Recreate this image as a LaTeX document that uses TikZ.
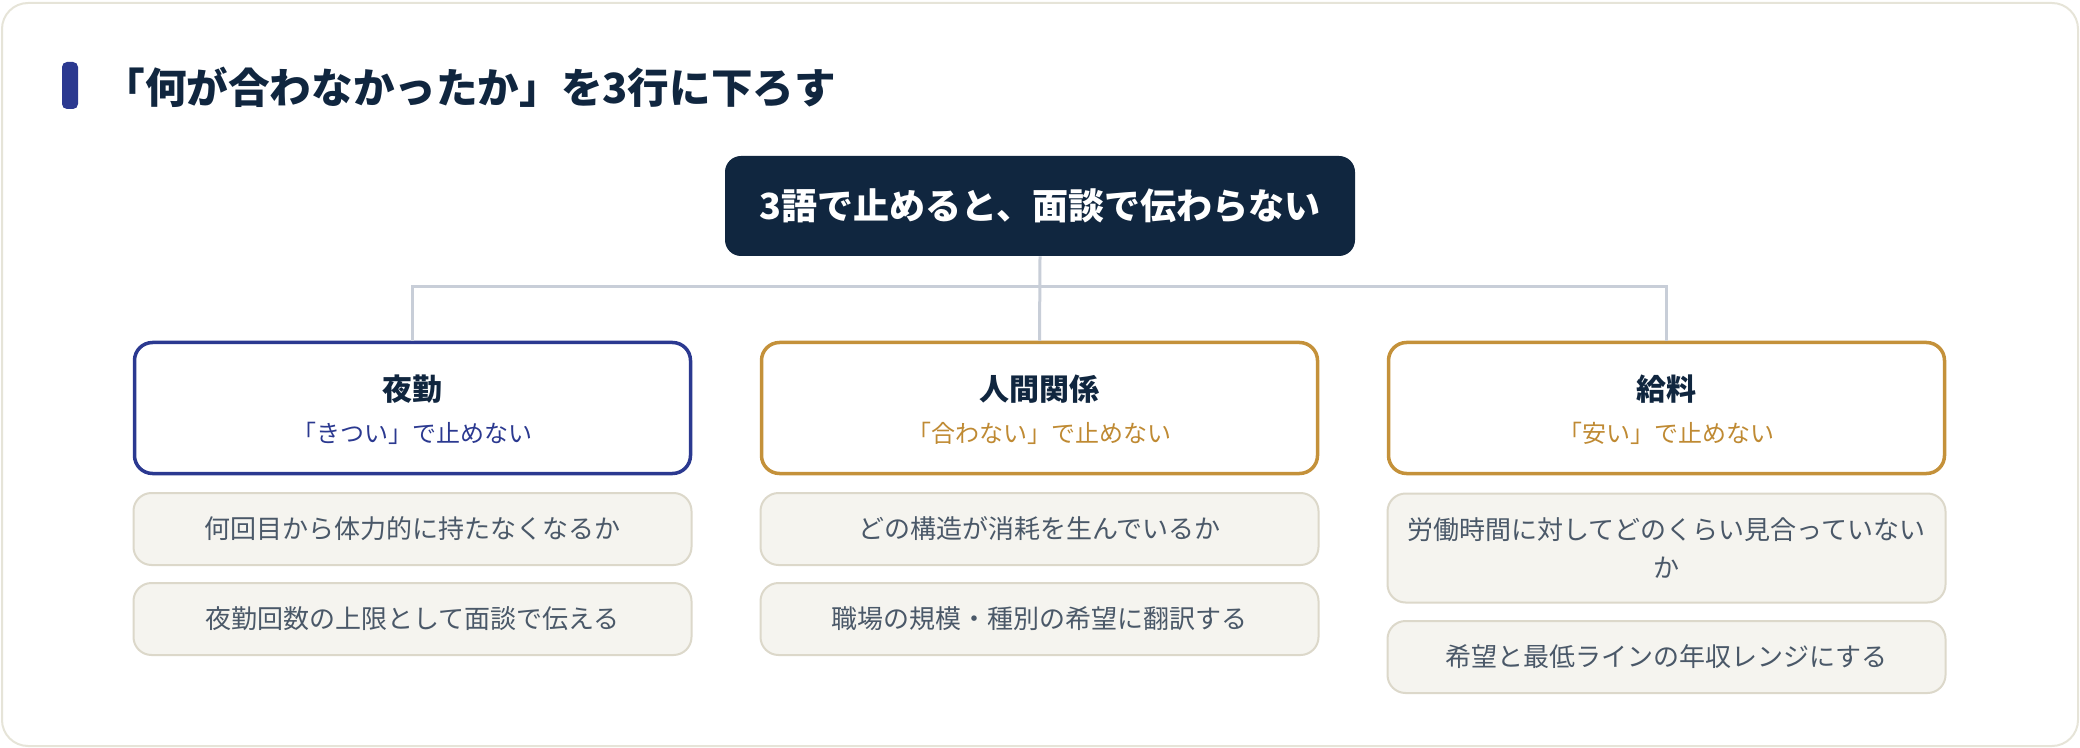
\documentclass[tikz,border=0pt]{standalone}
\usepackage{fontspec}
\setmainfont{Noto Sans CJK JP}
\definecolor{navy}{HTML}{10263F}
\definecolor{accent}{HTML}{2B3990}
\definecolor{gold}{HTML}{C4913A}
\definecolor{goldtext}{HTML}{BF8A33}
\definecolor{conn}{HTML}{C8CED8}
\definecolor{itemfill}{HTML}{F5F4EF}
\definecolor{itemline}{HTML}{DCD8CA}
\definecolor{itemtext}{HTML}{4A5868}
\definecolor{cardline}{HTML}{E6E4D8}
\begin{document}
\begin{tikzpicture}[x=0.5pt,y=-0.5pt,
  card/.style={draw=cardline,line width=1pt,rounded corners=13pt,fill=white},
  topbox/.style={fill=navy,rounded corners=8pt,minimum width=315pt,minimum height=50pt,
    text=white,font=\bfseries\fontsize{18pt}{22pt}\selectfont,inner sep=0pt},
  catbox/.style={fill=white,line width=1.75pt,rounded corners=9pt,
    minimum width=278pt,minimum height=65.5pt,inner sep=0pt},
  cattitle/.style={text=navy,font=\bfseries\fontsize{15pt}{18pt}\selectfont,inner sep=0pt},
  catsub/.style={font=\fontsize{12pt}{15pt}\selectfont,inner sep=0pt},
  itembox/.style={fill=itemfill,draw=itemline,line width=1pt,rounded corners=9pt,
    minimum width=279pt,text=itemtext,align=center,
    font=\fontsize{13pt}{19pt}\selectfont,inner sep=0pt},
  connector/.style={draw=conn,line width=1.5pt}]
\useasboundingbox (0,0) rectangle (2080,748);
\draw[card] (2,3) rectangle (2078,746);
\fill[accent,rounded corners=2.5pt] (62,62) rectangle (78,109);
\node[anchor=west,text=navy,font=\bfseries\fontsize{20.8pt}{24pt}\selectfont,inner sep=0pt]
  (title) at (103,87) {「何が合わなかったか」を3行に下ろす};

\node[topbox] (top) at (1040,206) {3語で止めると、面談で伝わらない};

\node[catbox,draw=accent] (c1) at (412.5,408) {};
\node[catbox,draw=gold] (c2) at (1039.5,408) {};
\node[catbox,draw=gold] (c3) at (1666.5,408) {};

\coordinate (hub) at (1040,287);
\draw[connector] (top.south) -- (c2.north);
\draw[connector] (c1.north) |- (hub) -| (c3.north);

\node[cattitle] (c1t) at (412.5,389) {夜勤};
\node[catsub,text=accent] (c1s) at (412.5,433) {「きつい」で止めない};
\node[cattitle] (c2t) at (1039.5,389) {人間関係};
\node[catsub,text=goldtext] (c2s) at (1039.5,433) {「合わない」で止めない};
\node[cattitle] (c3t) at (1666.5,389) {給料};
\node[catsub,text=goldtext] (c3s) at (1666.5,433) {「安い」で止めない};

\node[itembox,minimum height=36pt] (i11) at (412.5,529) {何回目から体力的に持たなくなるか};
\node[itembox,minimum height=36pt] (i12) at (412.5,619) {夜勤回数の上限として面談で伝える};
\node[itembox,minimum height=36pt] (i21) at (1039.5,529) {どの構造が消耗を生んでいるか};
\node[itembox,minimum height=36pt] (i22) at (1039.5,619) {職場の規模・種別の希望に翻訳する};
\node[itembox,minimum height=54.5pt] (i31) at (1666.5,548) {労働時間に対してどのくらい見合っていない\\か};
\node[itembox,minimum height=36pt] (i32) at (1666.5,657) {希望と最低ラインの年収レンジにする};
\end{tikzpicture}
\end{document}
